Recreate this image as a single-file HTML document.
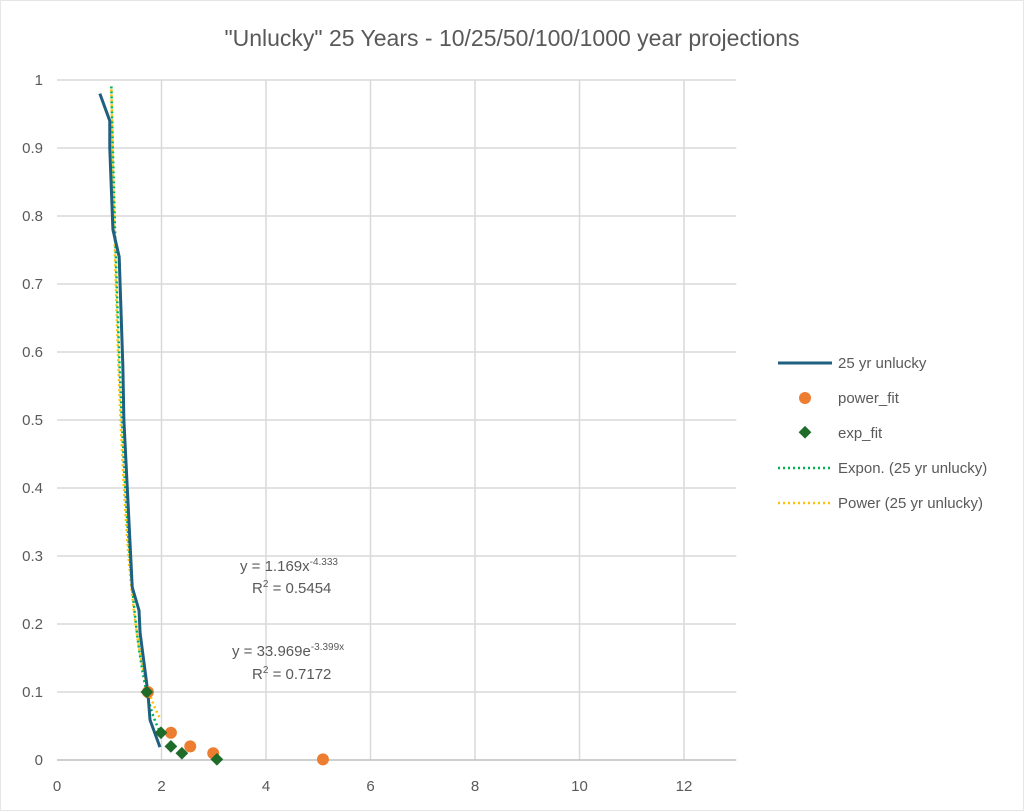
<!DOCTYPE html>
<html><head><meta charset="utf-8"><style>
body{margin:0;background:#fff;}
svg{display:block;font-family:"Liberation Sans",sans-serif;}
</style></head><body>
<svg id="chart" width="1024" height="811">
<rect x="0.5" y="0.5" width="1023" height="810" fill="#fff" stroke="#e6e6e6"/>
<text x="512" y="46" text-anchor="middle" font-size="23" fill="#595959">"Unlucky" 25 Years - 10/25/50/100/1000 year projections</text>
<g id="grid"></g><g id="axes"></g><g id="series"></g>
<g font-size="15" fill="#595959">
<text x="240" y="571">y = 1.169x<tspan dy="-6" font-size="10">-4.333</tspan></text>
<text x="252" y="593">R<tspan dy="-6" font-size="10">2</tspan><tspan dy="6"> = 0.5454</tspan></text>
<text x="232" y="656">y = 33.969e<tspan dy="-6" font-size="10">-3.399x</tspan></text>
<text x="252" y="679">R<tspan dy="-6" font-size="10">2</tspan><tspan dy="6"> = 0.7172</tspan></text>
</g>
<g font-size="15" fill="#595959">
<g><line x1="778" y1="363" x2="832" y2="363" stroke="#1f5f7f" stroke-width="3"/><text x="838" y="368">25 yr unlucky</text></g>
<g><circle cx="805" cy="398" r="6" fill="#ed7d31"/><text x="838" y="403">power_fit</text></g>
<g><rect x="800" y="428" width="9" height="9" fill="#1e6b2a" transform="rotate(45 805 433)"/><text x="838" y="438">exp_fit</text></g>
<g><line x1="778" y1="468" x2="832" y2="468" stroke="#00b050" stroke-width="2.5" stroke-dasharray="2 3"/><text x="838" y="473">Expon. (25 yr unlucky)</text></g>
<g><line x1="778" y1="503" x2="832" y2="503" stroke="#ffc000" stroke-width="2.5" stroke-dasharray="2 3"/><text x="838" y="508">Power (25 yr unlucky)</text></g>
</g>
</svg>
<script>
const lineX=[0.82,1.01,1.01,1.07,1.19,1.26,1.28,1.44,1.57,1.59,1.74,1.78,1.97];
const lineY=[0.98,0.94,0.90,0.78,0.74,0.58,0.50,0.254,0.22,0.187,0.099,0.059,0.019];
const powerX=[1.74,2.18,2.55,2.99,5.09];
const powerY=[0.10,0.04,0.02,0.01,0.001];
const expX=[1.72,1.99,2.18,2.39,3.06];
const expY=[0.10,0.04,0.02,0.01,0.001];
const powerCoef=[1.169,-4.333];
const expCoef=[33.969,-3.399];
const xTicks=[0,2,4,6,8,10,12];
const yTicks=[0,0.1,0.2,0.3,0.4,0.5,0.6,0.7,0.8,0.9,1];
const yTickLabels=["0","0.1","0.2","0.3","0.4","0.5","0.6","0.7","0.8","0.9","1"];
const X0=57,XPU=52.25,XMAX=13,Y0=760,YPU=680;
const sx=v=>X0+v*XPU, sy=v=>Y0-v*YPU;
const NS="http://www.w3.org/2000/svg";
function mk(t,a,p){const e=document.createElementNS(NS,t);for(const k in a)e.setAttribute(k,a[k]);p.appendChild(e);return e;}
const grid=document.getElementById('grid'),axes=document.getElementById('axes'),ser=document.getElementById('series');
yTicks.forEach((v,i)=>{
 if(v>0){const g=mk('line',{x1:sx(0),x2:sx(XMAX),y1:sy(v),y2:sy(v),stroke:'#d9d9d9','stroke-width':1.5},grid);
 
 }
 const t=mk('text',{x:43,y:sy(v)+5,'text-anchor':'end','font-size':15,fill:'#595959'},axes);t.textContent=yTickLabels[i];
 
 
});
xTicks.forEach(v=>{
 if(v>0){const g=mk('line',{x1:sx(v),x2:sx(v),y1:sy(0),y2:sy(1),stroke:'#d9d9d9','stroke-width':1.5},grid);
 
 }
 const t=mk('text',{x:sx(v),y:791,'text-anchor':'middle','font-size':15,fill:'#595959'},axes);t.textContent=v;
 
 
});
const ax=mk('line',{x1:sx(0),x2:sx(XMAX),y1:sy(0),y2:sy(0),stroke:'#bfbfbf','stroke-width':1.5},axes);


function curve(f){let p=[];for(let x=1.0;x<=1.97;x+=0.01){let y=f(x);if(y<=1)p.push(sx(x)+','+sy(y));}return p.join(' ');}
const pt=mk('polyline',{points:curve(x=>powerCoef[0]*Math.pow(x,powerCoef[1])),fill:'none',stroke:'#ffc000','stroke-width':2.5,'stroke-dasharray':'2 3'},ser);


const et=mk('polyline',{points:curve(x=>expCoef[0]*Math.exp(expCoef[1]*x)),fill:'none',stroke:'#00b050','stroke-width':2.5,'stroke-dasharray':'2 3'},ser);


const ln=mk('polyline',{points:lineX.map((x,i)=>sx(x)+','+sy(lineY[i])).join(' '),fill:'none',stroke:'#1f5f7f','stroke-width':3,'stroke-linejoin':'round'},ser);


powerX.forEach((x,i)=>{const c=mk('circle',{cx:sx(x),cy:sy(powerY[i]),r:6,fill:'#ed7d31'},ser);
 
 });
expX.forEach((x,i)=>{const cx=sx(x),cy=sy(expY[i]);const r=mk('rect',{x:cx-4.5,y:cy-4.5,width:9,height:9,fill:'#1e6b2a',transform:`rotate(45 ${cx} ${cy})`},ser);
 
 });
</script>
</body></html>
